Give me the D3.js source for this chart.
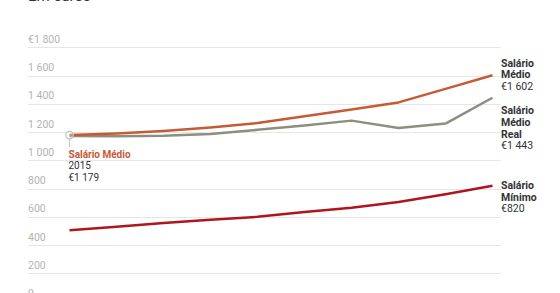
<!DOCTYPE html>
<html>
<head>
<meta charset="utf-8">
<script src="https://cdn.jsdelivr.net/npm/d3@7"></script>
<style>
  html, body { margin: 0; padding: 0; background: #fff; }
  svg { display: block; font-family: Roboto, "Noto Sans", sans-serif; }
</style>
</head>
<body>
<svg id="chart" width="560" height="293"></svg>
<script>
// ─── data ────────────────────────────────────────────────────────────────────
const years          = [2015, 2016, 2017, 2018, 2019, 2020, 2021, 2022, 2023, 2024];
const salarioMedio   = [1179, 1190, 1208, 1233, 1264, 1312, 1360, 1410, 1506, 1602];
const salarioReal    = [1172, 1170, 1174, 1186, 1216, 1247, 1281, 1229, 1260, 1443];
const salarioMinimo  = [505, 530, 557, 580, 600, 635, 665, 705, 760, 820];
const yTicks         = [0, 200, 400, 600, 800, 1000, 1200, 1400, 1600, 1800];

const W = 560, H = 293;
const gridX0 = 28, gridX1 = 501;

const svg = d3.select('#chart');

const x = d3.scaleLinear().domain([2015, 2024]).range([69.5, 492.5]);
const y = d3.scaleLinear().domain([0, 1800]).range([301.6, 47.3]);

const fmt = v => d3.format(',')(v).replace(/,/g, ' ');

// title (cut at top in the original)
svg.append('text')
  .attr('x', gridX0).attr('y', 1)
  .attr('font-size', 15).attr('fill', '#333')
  .text('Em euros');

// grid + tick labels
const grid = svg.append('g');
yTicks.forEach(t => {
  grid.append('line')
    .attr('x1', gridX0).attr('x2', gridX1)
    .attr('y1', Math.round(y(t)) + 0.5).attr('y2', Math.round(y(t)) + 0.5)
    .attr('stroke', '#e6e6e6').attr('stroke-width', 1);
  grid.append('text')
    .attr('x', gridX0).attr('y', y(t) - 4.5)
    .attr('font-size', 10.5).attr('fill', '#b3b3b3')
    .text(t === 1800 ? '€' + fmt(t) : fmt(t));
});

// lines
const line = d3.line().x((d, i) => x(years[i])).y(d => y(d));
const series = [
  { vals: salarioMinimo, color: '#b0141e' },
  { vals: salarioReal,   color: '#8e8e7f' },
  { vals: salarioMedio,  color: '#c65a32' }
];
series.forEach(s => {
  svg.append('path')
    .datum(s.vals)
    .attr('d', line)
    .attr('fill', 'none')
    .attr('stroke', s.color)
    .attr('stroke-width', 2.5)
    .attr('stroke-linejoin', 'round');
});

// start annotation
const cx = x(years[0]), cy = y(salarioMedio[0]);
svg.append('line')
  .attr('x1', cx).attr('x2', cx).attr('y1', cy + 4).attr('y2', cy + 12)
  .attr('stroke', '#c8c8c8').attr('stroke-width', 1);
svg.append('circle')
  .attr('cx', cx).attr('cy', cy).attr('r', 3.8)
  .attr('fill', 'rgba(255,255,255,0.3)').attr('stroke', '#bdbdbd').attr('stroke-width', 1.2);

const ann = svg.append('text').attr('x', cx - 1).attr('font-size', 10);
ann.append('tspan').attr('x', cx - 1).attr('y', 157.5)
  .attr('font-weight', 'bold').attr('fill', '#c65a32').text('Salário Médio');
ann.append('tspan').attr('x', cx - 1).attr('y', 169)
  .attr('fill', '#333').text(years[0]);
ann.append('tspan').attr('x', cx - 1).attr('y', 180.5)
  .attr('fill', '#333').text('€' + fmt(salarioMedio[0]));

// end labels
const last = years.length - 1;
const endLabels = [
  { lines: ['Salário', 'Médio'],         value: salarioMedio[last],  top: 66.5 },
  { lines: ['Salário', 'Médio', 'Real'], value: salarioReal[last],   top: 114.3 },
  { lines: ['Salário', 'Mínimo'],        value: salarioMinimo[last], top: 189 }
];
endLabels.forEach(l => {
  const t = svg.append('text').attr('font-size', 10.5).attr('fill', '#333');
  l.lines.forEach((s, i) => {
    t.append('tspan').attr('x', gridX1).attr('y', l.top + i * 11.7)
      .attr('font-weight', 'bold').text(s);
  });
  t.append('tspan').attr('x', gridX1).attr('y', l.top + l.lines.length * 11.7)
    .text('€' + fmt(l.value));
});
</script>
</body>
</html>
